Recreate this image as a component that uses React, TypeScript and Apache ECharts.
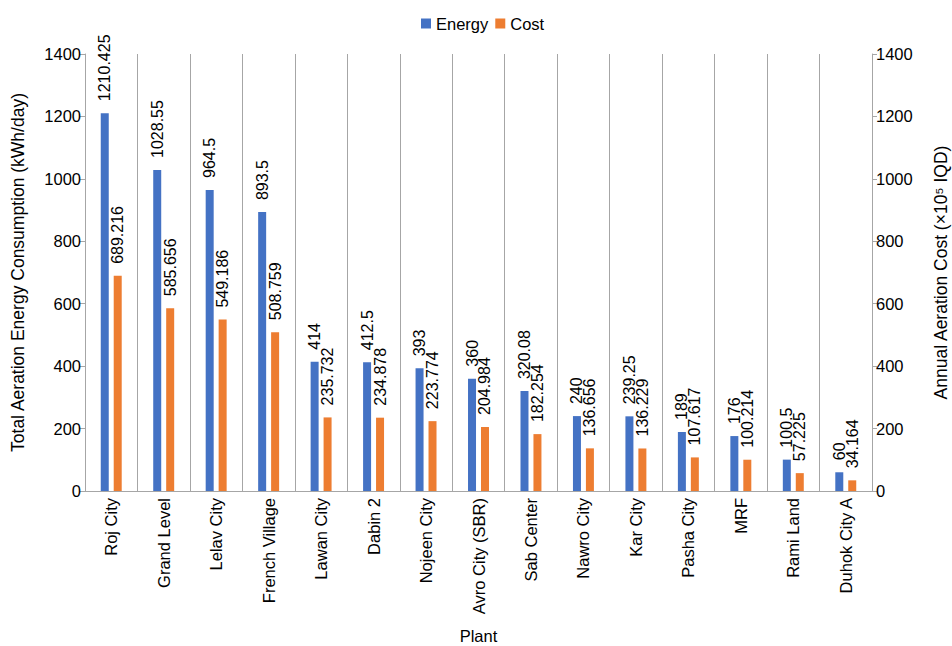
import React, { useEffect, useRef } from "react";
import * as echarts from "echarts";

const plants = [
  "Roj City",
  "Grand Level",
  "Lelav City",
  "French Village",
  "Lawan City",
  "Dabin 2",
  "Nojeen City",
  "Avro City (SBR)",
  "Sab Center",
  "Nawro City",
  "Kar City",
  "Pasha City",
  "MRF",
  "Rami Land",
  "Duhok City A",
];

const energy = [
  1210.425, 1028.55, 964.5, 893.5, 414, 412.5, 393, 360, 320.08, 240, 239.25, 189, 176, 100.5, 60,
];

const cost = [
  689.216, 585.656, 549.186, 508.759, 235.732, 234.878, 223.774, 204.984, 182.254, 136.656,
  136.229, 107.617, 100.214, 57.225, 34.164,
];

const axisTicks = [0, 200, 400, 600, 800, 1000, 1200, 1400];

const FONT = "'Liberation Sans', Arial, sans-serif";
const GREY = "#A6A6A6";
const TEXT = "#000000";

export default function App() {
  const ref = useRef<HTMLDivElement>(null);

  useEffect(() => {
    if (!ref.current) return;
    const chart = echarts.init(ref.current, undefined, { renderer: "svg" });

    const valueAxis = (name: string, position: "left" | "right", gap: number) => ({
      type: "value",
      position,
      min: axisTicks[0],
      max: axisTicks[axisTicks.length - 1],
      interval: 200,
      name,
      nameLocation: "middle",
      nameGap: gap,
      nameRotate: 90,
      nameTextStyle: { fontFamily: FONT, fontSize: 17.5, color: TEXT },
      axisLine: { show: true, lineStyle: { color: GREY, width: 1 } },
      axisTick: { show: true, length: 5, lineStyle: { color: GREY } },
      axisLabel: {
        fontFamily: FONT,
        fontSize: 16.5,
        color: TEXT,
        margin: 4,
        formatter: (v: number) => String(v),
      },
      splitLine: { show: false },
    });

    const barLabel = {
      show: true,
      position: "top",
      rotate: 90,
      align: "left",
      verticalAlign: "middle",
      distance: 12,
      fontFamily: FONT,
      fontSize: 16,
      color: TEXT,
      formatter: (p: { value: number }) => String(p.value),
    };

    chart.setOption({
      animation: false,
      backgroundColor: "#ffffff",
      textStyle: { fontFamily: FONT },
      legend: {
        top: 10,
        left: 416,
        itemWidth: 10,
        itemHeight: 10,
        itemGap: 7,
        textStyle: { fontFamily: FONT, fontSize: 16.5, color: TEXT },
        data: [
          { name: "Energy", icon: "rect" },
          { name: "Cost", icon: "rect" },
        ],
      },
      grid: {
        left: 85,
        right: 80,
        top: 54,
        bottom: 155,
        containLabel: false,
        outerBoundsMode: "none",
      },
      xAxis: {
        type: "category",
        data: plants,
        name: "Plant",
        nameLocation: "middle",
        nameGap: 136,
        nameTextStyle: { fontFamily: FONT, fontSize: 16.5, color: TEXT },
        axisLine: { show: true, lineStyle: { color: GREY, width: 1 } },
        axisTick: { show: false },
        axisLabel: {
          rotate: 90,
          interval: 0,
          margin: 7,
          fontFamily: FONT,
          fontSize: 16.5,
          color: TEXT,
        },
        splitLine: { show: true, interval: 0, lineStyle: { color: GREY, width: 1 } },
      },
      yAxis: [
        valueAxis("Total Aeration Energy Consumption (kWh/day)", "left", 58),
        valueAxis("Annual Aeration Cost (×10⁵ IQD)", "right", 60),
      ],
      series: [
        {
          name: "Energy",
          type: "bar",
          yAxisIndex: 0,
          data: energy,
          barWidth: 8,
          barGap: "62%",
          itemStyle: { color: "#4472C4" },
          label: barLabel,
        },
        {
          name: "Cost",
          type: "bar",
          yAxisIndex: 1,
          data: cost,
          barWidth: 8,
          itemStyle: { color: "#ED7D31" },
          label: barLabel,
        },
      ],
    });

    return () => chart.dispose();
  }, []);

  return (
    <div
      ref={ref}
      style={{ position: "fixed", left: 0, top: 0, width: 952, height: 646, background: "#fff" }}
    />
  );
}
